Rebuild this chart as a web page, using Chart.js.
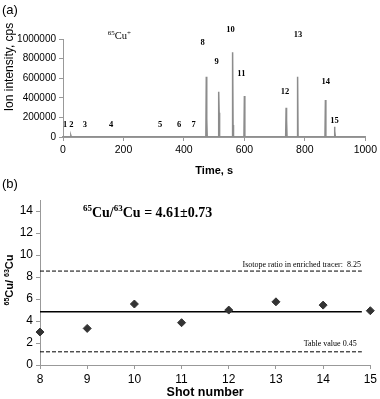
<!DOCTYPE html>
<html>
<head>
  <title>Cu isotope shots</title>
  <script src="https://cdn.jsdelivr.net/npm/chart.js"></script>
  <style>
    body { margin: 0; background: #fff; }
    #wrap { position: relative; width: 380px; height: 399px; }
    canvas { position: absolute; left: 0; }
    .tag { position: absolute; left: 2px; font: 13px Arial, "Liberation Sans", sans-serif; line-height: 15px; }
  </style>
</head>
<body>
<div id="wrap">
  <canvas id="chartA" width="380" height="182" style="top:0"></canvas>
  <div class="tag" style="top:2px">(a)</div>
  <canvas id="chartB" width="380" height="209" style="top:190px"></canvas>
  <div class="tag" style="top:176px">(b)</div>
</div>

<script>
  const ARIAL = 'Arial, "Liberation Sans", sans-serif';
  const TIMES = '"Times New Roman", "Liberation Serif", serif';
  const NARROW = '"Liberation Sans Narrow", "Arial Narrow", Arial, sans-serif';

  // (a) ion intensity peaks
  const peakTime = [26, 474, 515, 561, 600, 738, 776, 868, 898];
  const peakHeight = [15000, 615000, 462000, 864000, 418000, 299000, 615000, 378000, 105000];
  const peakTail = [0, 184000, 248000, 122000, 0, 173000, 0, 0, 60000];

  // shot number labels above the trace
  const shotLabel = ['1', '2', '3', '4', '5', '6', '7', '8', '9', '10', '11', '12', '13', '14', '15'];
  const shotLabelTime = [7, 28, 72, 159, 321, 384, 432, 462, 508, 554, 590, 734, 777, 869, 898];
  const shotLabelY = [127000, 127000, 127000, 127000, 127000, 127000, 127000, 959000, 765000, 1092000, 643000, 459000, 1041000, 561000, 163000];

  // (b) isotope ratio per shot
  const shotNumber = [8, 9, 10, 11, 12, 13, 14, 15];
  const ratio = [3.0, 3.33, 5.55, 3.85, 5.0, 5.75, 5.45, 4.94];
  const ratioTicks = [0, 2, 4, 6, 8, 10, 12, 14];
  const meanRatio = 4.85;
  const tracerRatio = 8.55;
  const tableRatio = 1.2;
  const lineEnd = 14.82;

  // build the trace: baseline with a narrow spike per peak
  const trace = [{ x: 0, y: 0 }];
  peakTime.forEach((t, i) => {
    trace.push({ x: t - 1.5, y: 0 });
    trace.push({ x: t, y: peakHeight[i] });
    trace.push({ x: t + 1.5, y: peakTail[i] });
    trace.push({ x: t + 3, y: 0 });
  });
  trace.push({ x: 1000, y: 0 });

  // text with superscript parts: parts = [[text, isSup], ...]
  function drawRich(ctx, parts, x, y, size, family, weight, align) {
    const supSize = Math.round(size * 0.62);
    const fontOf = p => weight + ' ' + (p[1] ? supSize : size) + 'px ' + family;
    let total = 0;
    parts.forEach(p => { ctx.font = fontOf(p); total += ctx.measureText(p[0]).width; });
    let cx = align === 'center' ? x - total / 2 : align === 'right' ? x - total : x;
    ctx.textAlign = 'left';
    ctx.textBaseline = 'alphabetic';
    parts.forEach(p => {
      ctx.font = fontOf(p);
      ctx.fillText(p[0], cx, p[1] ? y - size * 0.38 : y);
      cx += ctx.measureText(p[0]).width;
    });
  }

  const labelsA = {
    id: 'labelsA',
    afterDraw(chart) {
      const ctx = chart.ctx;
      const xs = chart.scales.x, ys = chart.scales.y;
      ctx.save();
      ctx.fillStyle = '#000';
      ctx.font = 'bold 8.5px ' + TIMES;
      ctx.textAlign = 'center';
      ctx.textBaseline = 'middle';
      shotLabel.forEach((s, i) => {
        ctx.fillText(s, xs.getPixelForValue(shotLabelTime[i]), ys.getPixelForValue(shotLabelY[i]));
      });
      drawRich(ctx, [['65', true], ['Cu', false], ['+', true]],
        xs.getPixelForValue(148), ys.getPixelForValue(1000000), 10.5, TIMES, 'normal', 'left');
      // y title
      ctx.translate(10, 67);
      ctx.rotate(-Math.PI / 2);
      ctx.font = '12px ' + ARIAL;
      ctx.textAlign = 'center';
      ctx.textBaseline = 'middle';
      ctx.fillText('Ion intensity, cps', 0, 0);
      ctx.restore();
    }
  };

  const labelsB = {
    id: 'labelsB',
    afterDraw(chart) {
      const ctx = chart.ctx;
      const xs = chart.scales.x, ys = chart.scales.y;
      ctx.save();
      ctx.fillStyle = '#000';
      drawRich(ctx, [['65', true], ['Cu/', false], ['63', true], ['Cu = 4.61\u00b10.73', false]],
        xs.getPixelForValue(8.91), ys.getPixelForValue(13.5), 14, TIMES, 'bold', 'left');
      ctx.font = '8px ' + TIMES;
      ctx.textAlign = 'right';
      ctx.textBaseline = 'middle';
      ctx.fillText('Isotope ratio in enriched tracer:  8.25', xs.getPixelForValue(14.8), ys.getPixelForValue(9.1));
      ctx.fillText('Table value 0.45', xs.getPixelForValue(14.71), ys.getPixelForValue(1.9));
      // y title
      ctx.translate(13, 90);
      ctx.rotate(-Math.PI / 2);
      drawRich(ctx, [['65', true], ['Cu/ ', false], ['63', true], ['Cu', false]], 0, 0, 11, ARIAL, 'bold', 'center');
      ctx.restore();
    }
  };

  const axisGrid = { display: true, drawOnChartArea: false, tickLength: 4, color: '#999' };

  new Chart(document.getElementById('chartA'), {
    type: 'line',
    data: {
      datasets: [{
        data: trace,
        borderColor: '#8c8c8c',
        borderWidth: 1.5,
        pointRadius: 0,
        tension: 0
      }]
    },
    options: {
      responsive: false,
      animation: false,
      layout: { padding: { top: 39, right: 12, left: 0, bottom: 0 } },
      plugins: { legend: { display: false }, tooltip: { enabled: false } },
      scales: {
        x: {
          type: 'linear', min: 0, max: 1000,
          ticks: { stepSize: 200, color: '#000', font: { family: ARIAL, size: 10.5 }, padding: 3, maxRotation: 0, callback: v => v },
          grid: axisGrid,
          border: { color: '#999', width: 2 },
          title: { display: true, text: 'Time, s', color: '#000', font: { family: ARIAL, size: 11, weight: 'bold' }, padding: { top: 4, bottom: 4 } },
          afterFit: s => { s.height = 45; }
        },
        y: {
          min: 0, max: 1000000,
          ticks: { stepSize: 200000, color: '#000', font: { family: ARIAL, size: 10 }, padding: 3, callback: v => v },
          grid: axisGrid,
          border: { color: '#999', width: 1 },
          afterFit: s => { s.width = 63; }
        }
      }
    },
    plugins: [labelsA]
  });

  new Chart(document.getElementById('chartB'), {
    type: 'scatter',
    data: {
      datasets: [
        {
          data: shotNumber.map((s, i) => ({ x: s, y: ratio[i] })),
          pointStyle: 'rectRot',
          pointRadius: 4,
          backgroundColor: '#333',
          borderColor: '#333',
          clip: false
        },
        {
          data: [{ x: 8, y: meanRatio }, { x: lineEnd, y: meanRatio }],
          showLine: true, borderColor: '#000', borderWidth: 1.5, pointRadius: 0
        },
        {
          data: [{ x: 8, y: tracerRatio }, { x: lineEnd, y: tracerRatio }],
          showLine: true, borderColor: '#000', borderWidth: 1, borderDash: [4, 2], pointRadius: 0
        },
        {
          data: [{ x: 8, y: tableRatio }, { x: lineEnd, y: tableRatio }],
          showLine: true, borderColor: '#000', borderWidth: 1, borderDash: [4, 2], pointRadius: 0
        }
      ]
    },
    options: {
      responsive: false,
      animation: false,
      layout: { padding: { top: 10, right: 8, left: 0, bottom: 0 } },
      plugins: { legend: { display: false }, tooltip: { enabled: false } },
      scales: {
        x: {
          type: 'linear', min: 8, max: 15,
          ticks: { stepSize: 1, color: '#000', font: { family: NARROW, size: 12 }, padding: 3 },
          grid: axisGrid,
          border: { color: '#999', width: 1 },
          title: { display: true, text: 'Shot number', color: '#000', font: { family: NARROW, size: 12.5, weight: 'bold', lineHeight: 1 }, padding: { top: 0, bottom: 0 } },
          afterFit: s => { s.height = 34; }
        },
        y: {
          min: 0, max: 15,
          ticks: { color: '#000', font: { family: NARROW, size: 12 }, padding: 3 },
          afterBuildTicks: s => { s.ticks = ratioTicks.map(v => ({ value: v })); },
          grid: axisGrid,
          border: { color: '#999', width: 1 },
          afterFit: s => { s.width = 40; }
        }
      }
    },
    plugins: [labelsB]
  });
</script>
</body>
</html>
